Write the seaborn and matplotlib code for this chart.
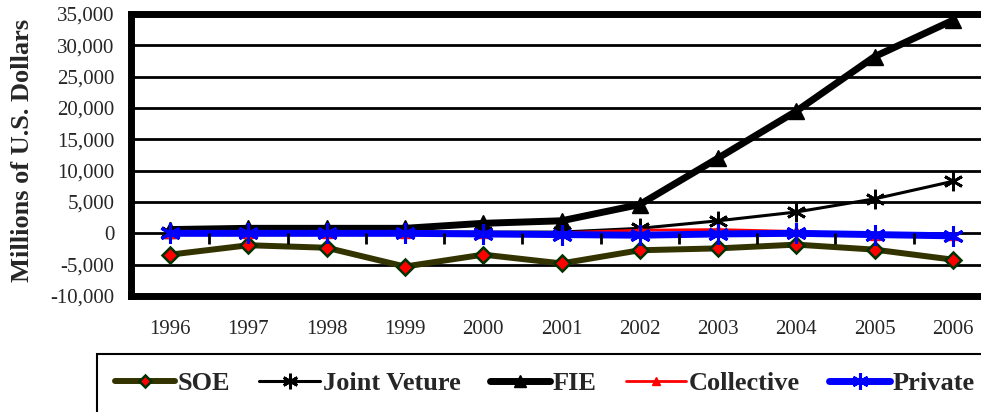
import matplotlib
matplotlib.use("Agg")
import matplotlib.pyplot as plt
import seaborn as sns
import pandas as pd
import numpy as np
from matplotlib.patches import Rectangle

years = [1996, 1997, 1998, 1999, 2000, 2001, 2002, 2003, 2004, 2005, 2006]
soe = [-3400, -1900, -2300, -5300, -3400, -4800, -2700, -2400, -1800, -2600, -4200]
joint_venture = [200, 200, 200, 200, 200, 200, 800, 2000, 3400, 5500, 8300]
fie = [600, 800, 800, 800, 1600, 2000, 4600, 12000, 19500, 28200, 34000]
collective = [0, 0, 0, 0, 0, 100, 500, 600, 300, -200, -300]
private = [0, 0, 0, 0, -100, -200, -300, -100, 0, -200, -400]
y_ticks = list(range(-10000, 35001, 5000))

sns.set_style("white")
plt.rcParams['font.family'] = ['Liberation Serif', 'DejaVu Serif']

fig = plt.figure(figsize=(9.81, 4.12), dpi=100)
ax = fig.add_axes([131 / 981, 116 / 412, 861 / 981, 282 / 412])

series = [
    ("SOE", soe, dict(color="#333300", lw=4.3, marker="D", ms=8, mfc="red", mec="#003300", mew=1.8)),
    ("Joint Veture", joint_venture, dict(color="black", lw=2.2, marker=(6, 2, 0), ms=14, mfc="black", mec="black", mew=2)),
    ("FIE", fie, dict(color="black", lw=5, marker="^", ms=11, mfc="black", mec="black", mew=1)),
    ("Collective", collective, dict(color="red", lw=2, marker="^", ms=7, mfc="red", mec="red", mew=1)),
    ("Private", private, dict(color="blue", lw=5, marker=(6, 2, 0), ms=15, mfc="blue", mec="blue", mew=2.2)),
]

for name, vals, st in series:
    df = pd.DataFrame({"year": years, "value": vals})
    sns.lineplot(data=df, x="year", y="value", ax=ax, label=name,
                 color=st["color"], linewidth=st["lw"], marker=st["marker"],
                 markersize=st["ms"], markerfacecolor=st["mfc"],
                 markeredgecolor=st["mec"], markeredgewidth=st["mew"])

ax.set_xlim(1995.5, 2006.5)
ax.set_ylim(-10000, 35000)
ax.set_yticks(y_ticks)
ax.set_yticklabels([f"{v:,}" for v in y_ticks])
ax.set_xticks(years)
ax.set_xticklabels([str(y) for y in years])
ax.tick_params(axis="both", length=0, labelsize=15)
ax.tick_params(axis="x", pad=17)
ax.tick_params(axis="y", pad=12)
ax.yaxis.grid(True, color="black", linewidth=2)
ax.set_axisbelow(True)
for sp in ax.spines.values():
    sp.set_linewidth(5)
    sp.set_color("black")
ax.set_xlabel("")
ax.set_ylabel("Millions of U.S. Dollars", fontsize=19, fontweight="bold")
ax.yaxis.set_label_coords(-0.113, 0.515)

# small category ticks along the zero line
sec = ax.secondary_xaxis(10000 / 45000)
sec.set_xticks(np.arange(1996.5, 2006, 1))
sec.tick_params(axis="x", direction="out", length=8, width=2, labelbottom=False, labeltop=False, color="black")
sec.set_zorder(5)
for sp in sec.spines.values():
    sp.set_visible(False)

handles, labels = ax.get_legend_handles_labels()
ax.legend_.remove()
fig.patches.append(Rectangle((97 / 981, -0.1), 1.0, 0.1 + 58 / 412, transform=fig.transFigure,
                             facecolor="white", edgecolor="black", linewidth=1.5))
fig.legend(handles, labels, loc="center left", bbox_to_anchor=(104 / 981, 29 / 412), ncol=5,
           frameon=False, prop={"family": "Liberation Serif", "weight": "bold", "size": 19},
           handlelength=2.3, columnspacing=1.1, handletextpad=0.1, markerscale=0.8,
           borderaxespad=0)

fig.savefig("out.png", dpi=100)
